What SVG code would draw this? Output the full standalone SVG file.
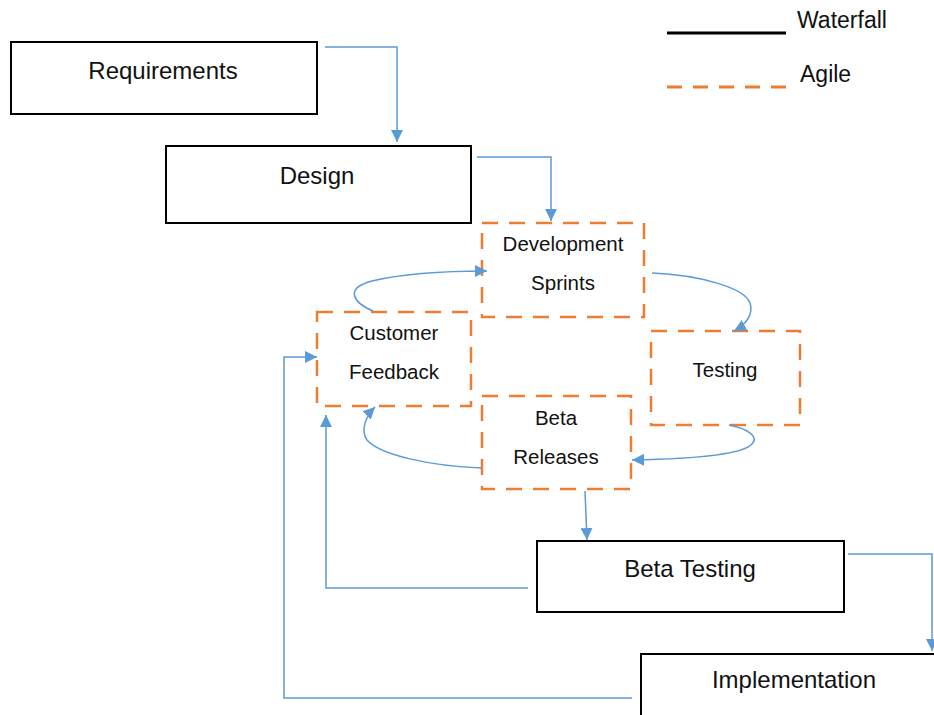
<svg xmlns="http://www.w3.org/2000/svg" width="934" height="715" viewBox="0 0 934 715">
  <style>
    .phase { fill: #ffffff; stroke: #000000; stroke-width: 2; }
    .agile { fill: #ffffff; stroke: #ED7D31; stroke-width: 2.5; stroke-dasharray: 16 11; }
    .big { font-family: "Liberation Sans", Arial, sans-serif; font-size: 24px; fill: #111111; text-anchor: middle; }
    .small { font-family: "Liberation Sans", Arial, sans-serif; font-size: 20.5px; fill: #111111; text-anchor: middle; }
    .legend { font-family: "Liberation Sans", Arial, sans-serif; font-size: 23px; fill: #111111; }
    .link { fill: none; stroke: #5B9BD5; stroke-width: 1.5; marker-end: url(#arrow); }
  </style>
  <defs>
    <marker id="arrow" markerUnits="userSpaceOnUse" viewBox="0 0 12 12" refX="12" refY="6" markerWidth="12" markerHeight="12" orient="auto">
      <path d="M0,0 L12,6 L0,12 z" fill="#5B9BD5"/>
    </marker>
  </defs>

  <rect width="934" height="715" fill="#ffffff"/>

  <!-- legend -->
  <g id="legend">
    <line x1="667" y1="33" x2="786" y2="33" stroke="#000000" stroke-width="3"/>
    <text class="legend" x="797" y="28">Waterfall</text>
    <line x1="667" y1="87" x2="786" y2="87" stroke="#ED7D31" stroke-width="3" stroke-dasharray="15 11"/>
    <text class="legend" x="800" y="82">Agile</text>
  </g>

  <!-- waterfall phases -->
  <g id="requirements">
    <rect class="phase" x="11" y="42" width="306" height="72"/>
    <text class="big" x="163" y="79">Requirements</text>
  </g>
  <g id="design">
    <rect class="phase" x="166" y="146" width="305" height="77"/>
    <text class="big" x="317" y="184">Design</text>
  </g>
  <g id="beta-testing">
    <rect class="phase" x="537" y="541" width="307" height="71"/>
    <text class="big" x="690" y="577">Beta Testing</text>
  </g>
  <g id="implementation">
    <rect class="phase" x="641" y="654" width="300" height="70"/>
    <text class="big" x="794" y="688">Implementation</text>
  </g>

  <!-- agile loop -->
  <g id="development-sprints">
    <rect class="agile" x="482" y="223" width="162" height="94"/>
    <text class="small" x="563" y="251">Development</text>
    <text class="small" x="563" y="290">Sprints</text>
  </g>
  <g id="customer-feedback">
    <rect class="agile" x="317" y="312" width="154" height="94"/>
    <text class="small" x="394" y="340">Customer</text>
    <text class="small" x="394" y="379">Feedback</text>
  </g>
  <g id="testing">
    <rect class="agile" x="651" y="331" width="149" height="94"/>
    <text class="small" x="725" y="377">Testing</text>
  </g>
  <g id="beta-releases">
    <rect class="agile" x="482" y="396" width="149" height="93"/>
    <text class="small" x="556" y="425">Beta</text>
    <text class="small" x="556" y="464">Releases</text>
  </g>

  <!-- connectors -->
  <g id="connectors">
    <path class="link" d="M325,47 H397 V142"/>
    <path class="link" d="M477,157 H551 V221"/>
    <path class="link" d="M373,311 C352,302 345,288 372,281 C405,273 450,271 487,271"/>
    <path class="link" d="M652,273 C700,275 745,288 750,303 C754,315 745,325 734,331"/>
    <path class="link" d="M729,425 C745,428 760,436 752,444 C742,455 690,459 632,460"/>
    <path class="link" d="M482,468 C430,466 380,455 367,440 C360,430 366,416 375,407"/>
    <path class="link" d="M585,491 L587,540"/>
    <path class="link" d="M528,588 H326 V415"/>
    <path class="link" d="M848,554 H932 V651"/>
    <path class="link" d="M632,698 H284 V357 H317"/>
  </g>
</svg>
